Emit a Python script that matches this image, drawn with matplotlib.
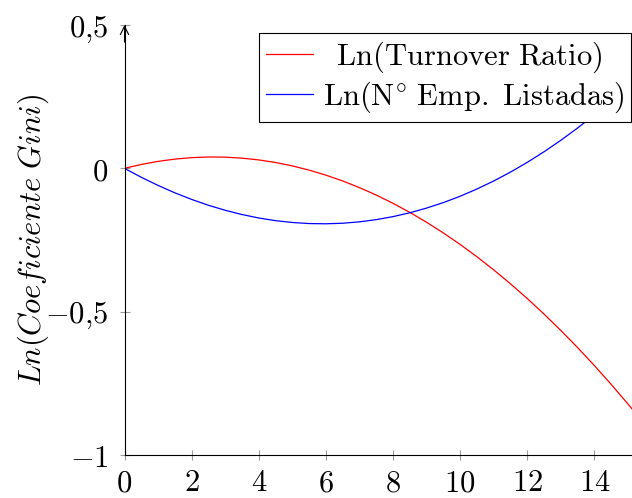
import matplotlib
matplotlib.use("Agg")
import matplotlib.pyplot as plt

plt.rcParams['mathtext.fontset'] = 'cm'
plt.rcParams['font.family'] = ['DejaVu Serif']

# values every half unit of x
x_vals = [0, 0.5, 1, 1.5, 2, 2.5, 3, 3.5, 4, 4.5, 5, 5.5, 6, 6.5, 7, 7.5,
          8, 8.5, 9, 9.5, 10, 10.5, 11, 11.5, 12, 12.5, 13, 13.5, 14, 14.5,
          15, 15.12]
turnover = [0, 0.0136, 0.0243, 0.0322, 0.0373, 0.0396, 0.0390, 0.0356,
            0.0294, 0.0204, 0.0085, -0.0062, -0.0237, -0.0440, -0.0672,
            -0.0932, -0.1220, -0.1536, -0.1881, -0.2254, -0.2655, -0.3084,
            -0.3542, -0.4028, -0.4542, -0.5084, -0.5655, -0.6254, -0.6881,
            -0.7536, -0.8220, -0.839]
empresas = [0, -0.0312, -0.0596, -0.0854, -0.1084, -0.1288, -0.1463, -0.1611,
            -0.1732, -0.1825, -0.1889, -0.1926, -0.1934, -0.1915, -0.1866,
            -0.1789, -0.1684, -0.1550, -0.1386, -0.1194, -0.0974, -0.0721,
            -0.0441, -0.0131, 0.0209, 0.0579, 0.0978, 0.1408, 0.1868, 0.2358,
            0.2879, 0.3008]

series_labels = [r"$\mathrm{\enspace Ln(Turnover\ Ratio)}$",
                 r"$\mathrm{Ln(N^{\circ}\ Emp.\ Listadas)}$"]
y_label = r"$Ln(Coeficiente\ Gini)$"

x_ticks = [0, 2, 4, 6, 8, 10, 12, 14]
y_ticks = [-1, -0.5, 0, 0.5]
y_tick_labels = [r"$-1$", r"$-0{,}5$", r"$0$", r"$0{,}5$"]

fig = plt.figure(figsize=(6.32, 4.98), dpi=100)
ax = fig.add_axes([0.197, 0.0863, 0.803, 0.8635])

ax.plot(x_vals, turnover, color='red', lw=0.9, label=series_labels[0])
ax.plot(x_vals, empresas, color='blue', lw=0.9, label=series_labels[1])

ax.set_xlim(0, 15.12)
ax.set_ylim(-1, 0.5)

for side in ['top', 'right']:
    ax.spines[side].set_visible(False)
for side in ['left', 'bottom']:
    ax.spines[side].set_linewidth(0.8)
    ax.spines[side].set_color('black')

ax.set_xticks(x_ticks)
ax.set_xticklabels([rf"${t}$" for t in x_ticks])
ax.set_yticks(y_ticks)
ax.set_yticklabels(y_tick_labels)
ax.tick_params(axis='both', direction='inout', length=7.5, width=0.8,
               color='#9a9a9a', labelsize=22)
ax.tick_params(axis='x', pad=5)
ax.tick_params(axis='y', pad=8)

ax.set_ylabel(y_label, fontsize=22, labelpad=-4)

# arrow tip on the y axis
ax.annotate('', xy=(0, 1.0), xytext=(0, 0.96), xycoords='axes fraction',
            arrowprops=dict(arrowstyle='->,head_length=0.6,head_width=0.3',
                            mutation_scale=10, color='black', lw=0.8,
                            shrinkA=0, shrinkB=0), annotation_clip=False)

leg = ax.legend(loc='upper right', bbox_to_anchor=(0.998, 0.981),
                borderaxespad=0, fontsize=22, frameon=True, fancybox=False,
                framealpha=1, edgecolor='black', handlelength=1.55,
                handletextpad=0.3, labelspacing=0.15, borderpad=0.22)
leg.get_frame().set_linewidth(0.8)

fig.savefig('out.png', dpi=100)
